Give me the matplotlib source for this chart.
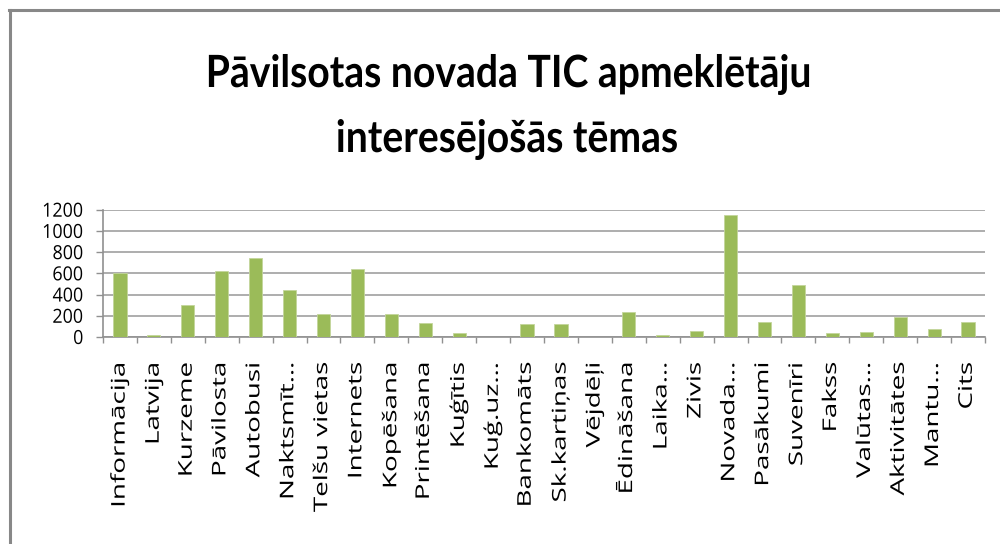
import matplotlib
matplotlib.use("Agg")
import matplotlib.pyplot as plt
from matplotlib.lines import Line2D
from matplotlib.patheffects import AbstractPathEffect
from matplotlib.transforms import Affine2D
import numpy as np

categories = ["Informācija", "Latvija", "Kurzeme", "Pāvilosta", "Autobusi", "Naktsmīt…",
              "Telšu vietas", "Internets", "Kopēšana", "Printēšana", "Kuģītis", "Kuģ.uz…",
              "Bankomāts", "Sk.kartiņas", "Vējdēļi", "Ēdināšana", "Laika…", "Zivis",
              "Novada…", "Pasākumi", "Suvenīri", "Fakss", "Valūtas…", "Aktivitātes",
              "Mantu…", "Cits"]
values = [600, 15, 300, 625, 740, 440,
          215, 640, 217, 132, 35, 0,
          120, 120, 0, 232, 15, 60,
          1150, 144, 487, 35, 47, 192,
          75, 144]
yticks = [0, 200, 400, 600, 800, 1000, 1200]
title_lines = ["Pāvilsotas novada TIC apmeklētāju", "interesējošās tēmas"]


class XSqueeze(AbstractPathEffect):
    """Narrow the glyphs horizontally (the reference text is condensed)."""

    def __init__(self, sx, anchor="center"):
        super().__init__()
        self.sx = sx
        self.anchor = anchor

    def draw_path(self, renderer, gc, tpath, affine, rgbFace=None):
        ext = tpath.get_extents(affine)
        if self.anchor == "right":
            cx = ext.x1
        elif self.anchor == "left":
            cx = ext.x0
        else:
            cx = 0.5 * (ext.x0 + ext.x1)
        a2 = affine + Affine2D().translate(-cx, 0).scale(self.sx, 1).translate(cx, 0)
        renderer.draw_path(gc, tpath, a2, rgbFace)


fam = ["Open Sans", "DejaVu Sans"]
tfam = ["Lato", "Open Sans", "DejaVu Sans"]

fig = plt.figure(figsize=(10, 5.44), dpi=100)
fig.patch.set_facecolor("white")

W, H = 1000, 544
ax = fig.add_axes([103 / W, (H - 337) / H, (985 - 103) / W, (337 - 209.7) / H])

x = np.arange(len(categories))
ax.bar(x, values, width=0.39, color="#9BBB59", edgecolor="#C3D69B", linewidth=0.6, zorder=3)

ax.set_xlim(-0.5, len(categories) - 0.5)
ax.set_ylim(0, 1200)
ax.set_yticks(yticks)
ax.set_yticklabels([str(v) for v in yticks], family=fam, fontsize=14)
ax.yaxis.grid(True, color="#A0A0A0", linewidth=1.2, zorder=0)
ax.set_axisbelow(True)

ax.set_xticks(np.arange(len(categories) + 1) - 0.5, minor=False)
ax.set_xticklabels([])
ax.set_xticks(x, minor=True)
ax.set_xticklabels(categories, minor=True, rotation=90, family=fam, fontsize=20,
                   va="top", ha="center")
ax.tick_params(axis="x", which="major", direction="out", length=4.3, color="#909090", width=1)
ax.tick_params(axis="x", which="minor", length=0, pad=18)
ax.tick_params(axis="y", direction="out", length=5, color="#909090", width=1, pad=9)

for lbl in ax.get_xticklabels(minor=True):
    lbl.set_path_effects([XSqueeze(0.68, "center")])
for lbl in ax.get_yticklabels():
    lbl.set_path_effects([XSqueeze(0.92, "right")])

for s in ["top", "right"]:
    ax.spines[s].set_visible(False)
for s in ["left", "bottom"]:
    ax.spines[s].set_color("#909090")
    ax.spines[s].set_linewidth(1.2)

t1 = fig.text(0.509, 1 - 87 / H, title_lines[0], ha="center", va="baseline", family=tfam,
              fontweight="bold", fontsize=32)
t2 = fig.text(0.507, 1 - 152 / H, title_lines[1], ha="center", va="baseline", family=tfam,
              fontweight="bold", fontsize=32)
for t in (t1, t2):
    t.set_path_effects([XSqueeze(0.88, "center")])

# chart border (top and left edges visible)
fig.add_artist(Line2D([9 / W, 1], [1 - 10 / H, 1 - 10 / H], transform=fig.transFigure,
                      color="#888888", linewidth=2.2))
fig.add_artist(Line2D([9.5 / W, 9.5 / W], [0, 1 - 10 / H], transform=fig.transFigure,
                      color="#888888", linewidth=2.2))

fig.savefig("out.png", dpi=100)
